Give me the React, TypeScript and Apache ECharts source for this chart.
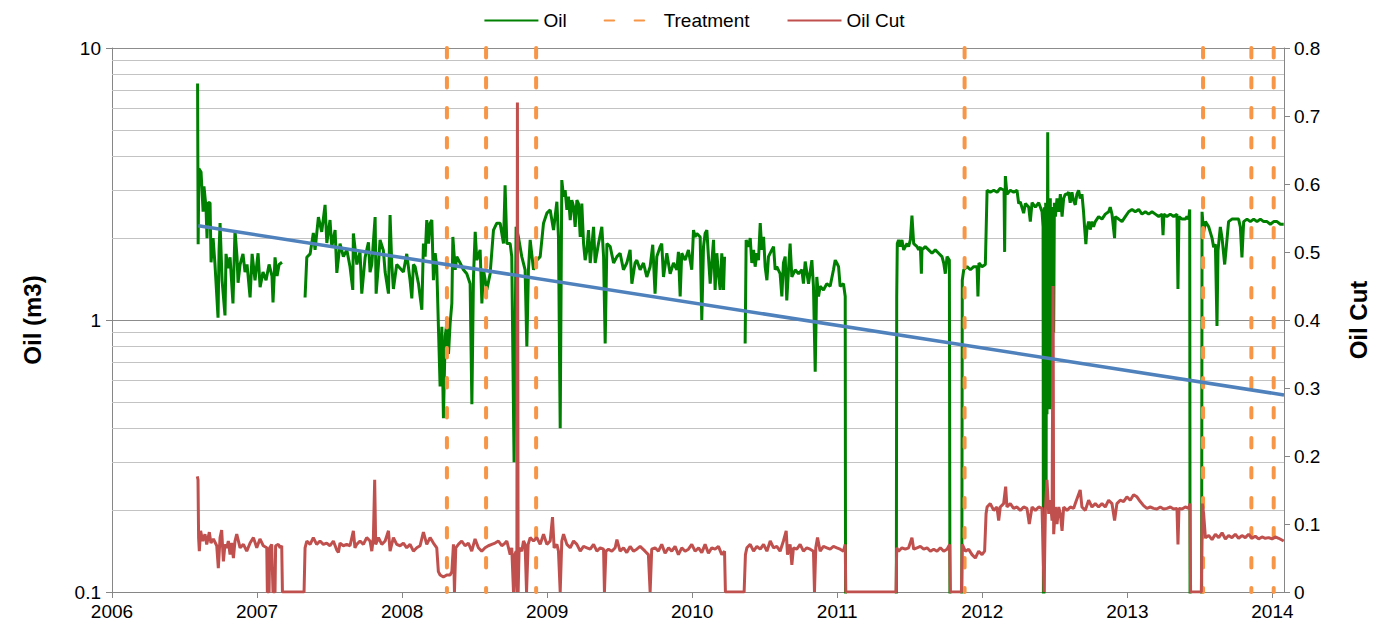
import React, { useEffect, useRef } from 'react';
import * as echarts from 'echarts';

// Oil rate (m3), [decimal year, value]; null = no reading (gap in the line)
const oilPoints: [number, number | null][] = [
  [2006.590, 7.4], [2006.594, 1.9], [2006.599, 3.6], [2006.614, 3.5], [2006.628, 2.5], [2006.634, 3.1], [2006.648, 2.6], [2006.655, 2.0],
  [2006.662, 2.7], [2006.676, 2.7], [2006.683, 1.63], [2006.697, 2.0], [2006.710, 1.6], [2006.731, 1.02], [2006.738, 1.8], [2006.745, 2.27],
  [2006.759, 1.4], [2006.779, 1.04], [2006.786, 1.75], [2006.800, 1.55], [2006.814, 1.7], [2006.834, 1.15], [2006.848, 2.14], [2006.862, 1.7],
  [2006.869, 1.37], [2006.883, 1.6], [2006.903, 1.75], [2006.917, 1.5], [2006.931, 1.6], [2006.952, 1.21], [2006.966, 1.75], [2006.986, 1.4],
  [2007.007, 1.76], [2007.021, 1.32], [2007.041, 1.5], [2007.062, 1.4], [2007.083, 1.6], [2007.103, 1.45], [2007.110, 1.16], [2007.124, 1.7],
  [2007.138, 1.45], [2007.152, 1.6], [2007.172, 1.63], [2007.25, null],
  [2007.331, 1.21], [2007.343, 1.70], [2007.366, 1.75], [2007.388, 2.09], [2007.400, 1.81], [2007.423, 2.39], [2007.446, 2.11], [2007.469, 2.65],
  [2007.481, 1.92], [2007.503, 2.33], [2007.515, 1.86], [2007.538, 2.14], [2007.550, 1.49], [2007.572, 1.91], [2007.595, 1.71], [2007.619, 1.81],
  [2007.641, 1.57], [2007.660, 1.29], [2007.664, 2.08], [2007.688, 1.6], [2007.710, 1.78], [2007.722, 1.25], [2007.745, 1.7], [2007.768, 1.93],
  [2007.779, 1.5], [2007.791, 1.6], [2007.814, 2.39], [2007.821, 1.25], [2007.837, 1.6], [2007.848, 1.97], [2007.871, 1.8], [2007.883, 1.5],
  [2007.906, 1.25], [2007.917, 2.43], [2007.929, 1.6], [2007.940, 1.3], [2007.963, 1.6], [2007.986, 1.55], [2008.009, 1.5], [2008.032, 1.75],
  [2008.055, 1.4], [2008.067, 1.2], [2008.078, 1.6], [2008.090, 1.57], [2008.113, 1.36], [2008.136, 1.09], [2008.147, 1.91], [2008.159, 1.71],
  [2008.170, 2.33], [2008.182, 1.91], [2008.193, 2.27], [2008.205, 2.33], [2008.216, 1.40], [2008.228, 1.76], [2008.239, 1.57], [2008.251, 0.92],
  [2008.262, 0.57], [2008.274, 0.945], [2008.285, 0.435], [2008.297, 0.87], [2008.308, 0.97], [2008.320, 0.75], [2008.331, 0.97], [2008.343, 1.15],
  [2008.350, 2.02], [2008.366, 1.53], [2008.377, 1.71], [2008.400, 1.62], [2008.423, 1.53], [2008.446, 1.48], [2008.469, 1.36], [2008.481, 0.49],
  [2008.492, 1.44], [2008.504, 2.11], [2008.515, 1.66], [2008.538, 1.81], [2008.550, 1.15], [2008.561, 1.53], [2008.584, 1.29], [2008.607, 1.48],
  [2008.630, 2.14], [2008.653, 2.27], [2008.676, 2.27], [2008.699, 1.91], [2008.710, 3.13], [2008.722, 1.91], [2008.745, 1.91], [2008.756, 1.71],
  [2008.772, 0.30], [2008.786, 2.20], [2008.802, 2.02], [2008.825, 1.71], [2008.848, 1.53], [2008.860, 0.80], [2008.871, 1.53], [2008.883, 1.97],
  [2008.906, 1.53], [2008.929, 1.66], [2008.952, 1.71], [2008.975, 2.27], [2008.998, 2.47], [2009.021, 2.54], [2009.044, 2.14], [2009.067, 2.72],
  [2009.078, 2.02], [2009.090, 0.40], [2009.101, 3.27], [2009.113, 2.84], [2009.124, 3.0], [2009.136, 2.54], [2009.147, 2.84], [2009.159, 2.33],
  [2009.170, 2.76], [2009.182, 2.61], [2009.193, 2.20], [2009.205, 2.76], [2009.216, 2.68], [2009.228, 2.02], [2009.239, 2.68], [2009.251, 1.91],
  [2009.262, 1.66], [2009.274, 1.81], [2009.285, 2.14], [2009.297, 1.62], [2009.320, 2.20], [2009.331, 1.62], [2009.354, 1.91], [2009.377, 2.20],
  [2009.389, 1.71], [2009.400, 0.82], [2009.412, 1.91], [2009.435, 1.86], [2009.458, 1.62], [2009.481, 1.71], [2009.503, 1.76], [2009.526, 1.53],
  [2009.549, 1.62], [2009.572, 1.81], [2009.584, 1.36], [2009.606, 1.62], [2009.618, 1.66], [2009.641, 1.53], [2009.664, 1.62], [2009.687, 1.44],
  [2009.710, 1.57], [2009.728, 1.89], [2009.744, 1.25], [2009.756, 1.71], [2009.779, 1.86], [2009.790, 1.91], [2009.802, 1.44], [2009.825, 1.76],
  [2009.848, 1.48], [2009.871, 1.62], [2009.894, 1.53], [2009.905, 1.78], [2009.917, 1.22], [2009.928, 1.76], [2009.951, 1.66], [2009.974, 1.81],
  [2009.997, 1.53], [2010.009, 2.14], [2010.020, 2.02], [2010.032, 2.08], [2010.055, 2.02], [2010.066, 1.0], [2010.078, 1.86], [2010.089, 2.08],
  [2010.101, 2.14], [2010.112, 1.71], [2010.124, 1.36], [2010.135, 1.62], [2010.147, 1.97], [2010.158, 1.29], [2010.170, 1.76], [2010.181, 1.48],
  [2010.193, 1.29], [2010.204, 1.76], [2010.216, 1.29], [2010.223, 1.71], [2010.29, null],
  [2010.365, 0.82], [2010.372, 1.97], [2010.388, 1.86], [2010.400, 2.0], [2010.411, 1.62], [2010.423, 1.81], [2010.434, 1.57], [2010.446, 1.76],
  [2010.457, 1.66], [2010.469, 2.27], [2010.480, 1.81], [2010.492, 2.02], [2010.503, 1.57], [2010.515, 1.40], [2010.526, 1.71], [2010.549, 1.81],
  [2010.561, 1.86], [2010.572, 1.53], [2010.583, 1.57], [2010.606, 1.48], [2010.618, 1.22], [2010.629, 1.62], [2010.641, 1.71], [2010.652, 1.18],
  [2010.664, 1.53], [2010.675, 1.91], [2010.687, 1.44], [2010.710, 1.53], [2010.733, 1.48], [2010.756, 1.53], [2010.767, 1.36], [2010.779, 1.64],
  [2010.802, 1.36], [2010.825, 1.66], [2010.836, 1.33], [2010.848, 0.645], [2010.859, 1.44], [2010.871, 1.22], [2010.882, 1.33], [2010.905, 1.29],
  [2010.928, 1.36], [2010.951, 1.33], [2010.974, 1.53], [2010.986, 1.66], [2010.997, 1.62], [2011.009, 1.57], [2011.020, 1.33], [2011.043, 1.36],
  [2011.055, 1.22], [2011.059, 0.01], [2011.405, 0.01],
  [2011.410, 1.22], [2011.414, 1.91], [2011.423, 1.97], [2011.435, 1.86], [2011.446, 1.97], [2011.458, 1.81], [2011.481, 1.91], [2011.492, 1.86],
  [2011.504, 1.97], [2011.515, 2.42], [2011.527, 1.91], [2011.550, 1.86], [2011.561, 1.81], [2011.573, 1.86], [2011.580, 1.48], [2011.584, 1.81],
  [2011.607, 1.86], [2011.630, 1.81], [2011.653, 1.76], [2011.676, 1.81], [2011.699, 1.76], [2011.722, 1.71], [2011.734, 1.62], [2011.745, 1.48],
  [2011.757, 1.71], [2011.773, 1.66], [2011.780, 0.01], [2011.856, 0.01],
  [2011.862, 1.40], [2011.872, 1.53], [2011.895, 1.57], [2011.918, 1.53], [2011.941, 1.57], [2011.964, 1.57], [2011.970, 1.22], [2011.977, 1.62],
  [2011.998, 1.57], [2012.021, 1.60], [2012.033, 3.0], [2012.055, 2.95], [2012.079, 3.0], [2012.102, 2.95], [2012.124, 3.05], [2012.150, 3.0],
  [2012.154, 1.78], [2012.159, 3.38], [2012.170, 2.9], [2012.193, 3.0], [2012.216, 2.95], [2012.239, 3.0], [2012.251, 2.68], [2012.262, 2.72],
  [2012.285, 2.47], [2012.297, 2.68], [2012.320, 2.6], [2012.331, 2.3], [2012.343, 2.7], [2012.366, 2.6], [2012.389, 2.7], [2012.412, 2.5],
  [2012.419, 2.2], [2012.423, 0.01], [2012.428, 2.6], [2012.432, 0.5], [2012.437, 2.7], [2012.440, 0.21], [2012.442, 2.5], [2012.446, 0.45],
  [2012.451, 4.9], [2012.456, 0.48], [2012.460, 2.7], [2012.465, 0.47], [2012.469, 2.8], [2012.474, 0.48], [2012.479, 2.6], [2012.483, 0.5],
  [2012.488, 2.6], [2012.492, 0.9], [2012.497, 2.7], [2012.504, 2.4], [2012.515, 2.8], [2012.527, 2.5], [2012.538, 2.9], [2012.550, 2.4],
  [2012.561, 2.8], [2012.572, 2.9], [2012.584, 2.9], [2012.595, 2.95], [2012.606, 2.7], [2012.618, 2.95], [2012.629, 2.75], [2012.641, 2.65],
  [2012.652, 2.9], [2012.664, 3.0], [2012.675, 2.8], [2012.687, 2.9], [2012.698, 2.5], [2012.705, 2.2], [2012.714, 1.9], [2012.721, 2.15],
  [2012.733, 2.3], [2012.744, 2.15], [2012.756, 2.3], [2012.767, 2.2], [2012.779, 2.3], [2012.802, 2.4], [2012.825, 2.35], [2012.848, 2.45],
  [2012.871, 2.5], [2012.882, 2.6], [2012.894, 2.45], [2012.912, 2.0], [2012.917, 2.4], [2012.940, 2.35], [2012.963, 2.3], [2012.986, 2.4],
  [2013.009, 2.5], [2013.032, 2.55], [2013.055, 2.5], [2013.078, 2.55], [2013.101, 2.45], [2013.124, 2.5], [2013.147, 2.45], [2013.170, 2.5],
  [2013.193, 2.45], [2013.216, 2.4], [2013.239, 2.45], [2013.246, 2.05], [2013.252, 2.45], [2013.273, 2.4], [2013.296, 2.45], [2013.319, 2.4],
  [2013.342, 2.45], [2013.349, 1.3], [2013.356, 2.4], [2013.377, 2.35], [2013.400, 2.35], [2013.411, 2.4], [2013.423, 2.35], [2013.430, 2.55],
  [2013.434, 0.01], [2013.510, 0.01],
  [2013.515, 2.5], [2013.526, 2.1], [2013.538, 2.3], [2013.561, 2.2], [2013.584, 2.0], [2013.595, 1.85], [2013.607, 1.9], [2013.618, 0.95],
  [2013.625, 1.8], [2013.641, 2.2], [2013.653, 2.0], [2013.671, 1.6], [2013.682, 1.85], [2013.698, 2.3], [2013.721, 2.35], [2013.744, 2.35],
  [2013.767, 2.35], [2013.779, 2.2], [2013.790, 1.7], [2013.802, 2.3], [2013.825, 2.35], [2013.848, 2.3], [2013.871, 2.35], [2013.894, 2.3],
  [2013.917, 2.35], [2013.940, 2.3], [2013.963, 2.3], [2013.986, 2.25], [2014.009, 2.3], [2014.032, 2.3], [2014.055, 2.25], [2014.078, 2.25],
];

// Oil cut (fraction), [decimal year, value]
const oilCutPoints: [number, number][] = [
  [2006.588, 0.170], [2006.593, 0.165], [2006.597, 0.08], [2006.602, 0.06], [2006.611, 0.09], [2006.625, 0.075], [2006.641, 0.085], [2006.653, 0.07],
  [2006.671, 0.088], [2006.682, 0.072], [2006.699, 0.078], [2006.722, 0.068], [2006.733, 0.035], [2006.745, 0.08], [2006.756, 0.091], [2006.768, 0.045],
  [2006.779, 0.07], [2006.791, 0.065], [2006.802, 0.075], [2006.814, 0.055], [2006.825, 0.072], [2006.837, 0.05], [2006.848, 0.075], [2006.860, 0.085],
  [2006.883, 0.065], [2006.906, 0.07], [2006.929, 0.06], [2006.952, 0.072], [2006.975, 0.08], [2006.998, 0.065], [2007.020, 0.078], [2007.043, 0.068],
  [2007.067, 0.065], [2007.071, 0], [2007.083, 0], [2007.087, 0.065], [2007.101, 0.07], [2007.110, 0], [2007.124, 0], [2007.128, 0.068],
  [2007.147, 0.07], [2007.159, 0.065], [2007.170, 0.068], [2007.175, 0], [2007.324, 0], [2007.331, 0.065], [2007.343, 0.075], [2007.366, 0.07],
  [2007.388, 0.08], [2007.411, 0.07], [2007.434, 0.075], [2007.457, 0.07], [2007.480, 0.072], [2007.503, 0.068], [2007.526, 0.075], [2007.549, 0.062],
  [2007.561, 0.058], [2007.572, 0.072], [2007.595, 0.068], [2007.618, 0.07], [2007.641, 0.068], [2007.664, 0.09], [2007.675, 0.065], [2007.687, 0.07],
  [2007.710, 0.075], [2007.733, 0.07], [2007.756, 0.08], [2007.779, 0.075], [2007.791, 0.06], [2007.802, 0.08], [2007.811, 0.165], [2007.818, 0.07],
  [2007.837, 0.08], [2007.860, 0.07], [2007.883, 0.075], [2007.906, 0.09], [2007.917, 0.06], [2007.940, 0.08], [2007.963, 0.07], [2007.986, 0.068],
  [2008.009, 0.072], [2008.032, 0.065], [2008.055, 0.07], [2008.078, 0.06], [2008.101, 0.065], [2008.124, 0.068], [2008.147, 0.088], [2008.170, 0.07],
  [2008.193, 0.08], [2008.216, 0.072], [2008.239, 0.065], [2008.250, 0.03], [2008.262, 0.025], [2008.285, 0.022], [2008.308, 0.025], [2008.331, 0.025],
  [2008.343, 0.03], [2008.354, 0.07], [2008.361, 0], [2008.370, 0.065], [2008.388, 0.07], [2008.411, 0.075], [2008.434, 0.068], [2008.457, 0.072],
  [2008.480, 0.06], [2008.503, 0.078], [2008.526, 0.065], [2008.549, 0.06], [2008.572, 0.065], [2008.595, 0.068], [2008.618, 0.07], [2008.641, 0.072],
  [2008.664, 0.075], [2008.687, 0.068], [2008.710, 0.072], [2008.722, 0.075], [2008.745, 0.055], [2008.756, 0.065], [2008.768, 0], [2008.777, 0.055],
  [2008.786, 0.06], [2008.791, 0], [2008.795, 0.72], [2008.800, 0], [2008.807, 0.065], [2008.825, 0.06], [2008.837, 0.075], [2008.848, 0.07],
  [2008.858, 0], [2008.869, 0.07], [2008.883, 0.08], [2008.906, 0.075], [2008.929, 0.08], [2008.952, 0.07], [2008.975, 0.085], [2008.998, 0.07],
  [2009.021, 0.075], [2009.037, 0.11], [2009.048, 0.065], [2009.067, 0.07], [2009.078, 0.06], [2009.090, 0], [2009.101, 0.075], [2009.113, 0.085],
  [2009.136, 0.07], [2009.159, 0.065], [2009.182, 0.075], [2009.205, 0.07], [2009.228, 0.06], [2009.251, 0.067], [2009.274, 0.065], [2009.297, 0.063],
  [2009.320, 0.07], [2009.343, 0.06], [2009.366, 0.065], [2009.389, 0.063], [2009.395, 0], [2009.405, 0.06], [2009.423, 0.063], [2009.446, 0.06],
  [2009.469, 0.065], [2009.481, 0.077], [2009.503, 0.06], [2009.526, 0.065], [2009.549, 0.058], [2009.572, 0.067], [2009.595, 0.06], [2009.618, 0.063],
  [2009.641, 0.067], [2009.675, 0.06], [2009.698, 0.055], [2009.710, 0], [2009.721, 0.063], [2009.744, 0.065], [2009.767, 0.06], [2009.790, 0.07],
  [2009.813, 0.057], [2009.837, 0.065], [2009.859, 0.06], [2009.882, 0.067], [2009.905, 0.055], [2009.928, 0.065], [2009.951, 0.06], [2009.974, 0.063],
  [2009.997, 0.07], [2010.020, 0.06], [2010.044, 0.065], [2010.066, 0.058], [2010.089, 0.07], [2010.112, 0.057], [2010.135, 0.065], [2010.158, 0.063],
  [2010.181, 0.067], [2010.204, 0.055], [2010.223, 0.06], [2010.229, 0], [2010.358, 0], [2010.367, 0.055], [2010.377, 0.065], [2010.400, 0.07],
  [2010.423, 0.06], [2010.446, 0.067], [2010.469, 0.063], [2010.492, 0.07], [2010.515, 0.06], [2010.538, 0.075], [2010.561, 0.065], [2010.583, 0.067],
  [2010.606, 0.06], [2010.629, 0.075], [2010.648, 0.09], [2010.657, 0.055], [2010.675, 0.07], [2010.687, 0.04], [2010.698, 0.065], [2010.721, 0.063],
  [2010.744, 0.07], [2010.767, 0.06], [2010.790, 0.065], [2010.813, 0.063], [2010.836, 0.06], [2010.843, 0], [2010.852, 0.065], [2010.864, 0.08],
  [2010.882, 0.06], [2010.905, 0.067], [2010.928, 0.065], [2010.951, 0.063], [2010.974, 0.067], [2010.997, 0.065], [2011.020, 0.063], [2011.043, 0.06],
  [2011.055, 0.07], [2011.059, 0], [2011.405, 0], [2011.410, 0.065], [2011.423, 0.06], [2011.446, 0.065], [2011.469, 0.063], [2011.492, 0.065],
  [2011.515, 0.08], [2011.527, 0.063], [2011.550, 0.065], [2011.573, 0.067], [2011.596, 0.063], [2011.619, 0.065], [2011.642, 0.06], [2011.665, 0.063],
  [2011.688, 0.06], [2011.711, 0.065], [2011.734, 0.06], [2011.757, 0.063], [2011.775, 0.07], [2011.780, 0], [2011.856, 0], [2011.862, 0.07],
  [2011.883, 0.06], [2011.906, 0.063], [2011.929, 0.055], [2011.952, 0.05], [2011.975, 0.06], [2011.998, 0.055], [2012.016, 0.06], [2012.026, 0.115],
  [2012.033, 0.125], [2012.055, 0.13], [2012.079, 0.12], [2012.101, 0.125], [2012.113, 0.105], [2012.124, 0.125], [2012.147, 0.13], [2012.161, 0.155],
  [2012.170, 0.125], [2012.193, 0.13], [2012.216, 0.123], [2012.239, 0.125], [2012.262, 0.12], [2012.285, 0.125], [2012.308, 0.123], [2012.324, 0.1],
  [2012.343, 0.125], [2012.366, 0.12], [2012.389, 0.125], [2012.412, 0.123], [2012.426, 0], [2012.435, 0.12], [2012.446, 0.165], [2012.458, 0.115],
  [2012.469, 0.135], [2012.481, 0.105], [2012.488, 0.45], [2012.492, 0.085], [2012.504, 0.125], [2012.515, 0.1], [2012.527, 0.125], [2012.538, 0.115],
  [2012.550, 0.09], [2012.561, 0.125], [2012.584, 0.12], [2012.607, 0.125], [2012.630, 0.123], [2012.641, 0.13], [2012.675, 0.15], [2012.687, 0.125],
  [2012.710, 0.12], [2012.733, 0.135], [2012.756, 0.125], [2012.779, 0.13], [2012.802, 0.125], [2012.825, 0.13], [2012.848, 0.125], [2012.871, 0.135],
  [2012.894, 0.13], [2012.912, 0.105], [2012.928, 0.13], [2012.951, 0.135], [2012.974, 0.133], [2012.997, 0.14], [2013.020, 0.135], [2013.043, 0.143],
  [2013.066, 0.14], [2013.089, 0.133], [2013.112, 0.127], [2013.135, 0.123], [2013.158, 0.125], [2013.181, 0.123], [2013.204, 0.122], [2013.227, 0.125],
  [2013.250, 0.122], [2013.273, 0.123], [2013.296, 0.125], [2013.319, 0.122], [2013.342, 0.123], [2013.349, 0.07], [2013.356, 0.123], [2013.377, 0.122],
  [2013.400, 0.125], [2013.423, 0.123], [2013.432, 0.13], [2013.436, 0], [2013.510, 0], [2013.517, 0.13], [2013.526, 0.115], [2013.538, 0.08],
  [2013.561, 0.083], [2013.584, 0.077], [2013.607, 0.085], [2013.630, 0.08], [2013.653, 0.087], [2013.676, 0.078], [2013.698, 0.083], [2013.721, 0.08],
  [2013.744, 0.085], [2013.767, 0.079], [2013.790, 0.083], [2013.813, 0.08], [2013.836, 0.085], [2013.859, 0.079], [2013.882, 0.082], [2013.905, 0.078],
  [2013.928, 0.081], [2013.951, 0.079], [2013.974, 0.08], [2013.997, 0.078], [2014.020, 0.081], [2014.043, 0.079], [2014.078, 0.075],
];

// Treatment dates (decimal year)
const treatmentYears: number[] = [2008.309, 2008.579, 2008.924, 2011.878, 2013.522, 2013.855, 2014.009];

// Exponential trend of oil rate
const trendYears: number[] = [2006.595, 2014.08];
const trendValues: number[] = [2.22, 0.53];

// Left log axis minor gridlines
const minorGridValues: number[] = [0.2, 0.3, 0.4, 0.5, 0.6, 0.7, 0.8, 0.9, 2, 3, 4, 5, 6, 7, 8, 9];

const xMin = 2006;
const xMax = 2014.08;

export default function App() {
  const ref = useRef<HTMLDivElement>(null);

  useEffect(() => {
    if (!ref.current) return;
    const chart = echarts.init(ref.current, null, { renderer: 'svg' });
    const font = "'Liberation Sans', Arial, sans-serif";
    const axisColor = '#868686';

    const oilData = oilPoints.map(([x, y]) => [x, y === null ? '-' : y]);
    const cutData = oilCutPoints.map(([x, y]) => [x, y]);
    const treatmentData: any[] = [];
    treatmentYears.forEach((t) => {
      treatmentData.push([t, 10], [t, 0.1], [t, '-']);
    });
    const trendData = trendYears.map((x, i) => [x, trendValues[i]]);

    const option: any = {
      animation: false,
      textStyle: { fontFamily: font },
      legend: {
        top: 6,
        left: 'center',
        itemWidth: 54,
        itemHeight: 14,
        itemGap: 37,
        data: ['Oil', 'Treatment', 'Oil Cut'],
        itemStyle: { opacity: 0 },
        textStyle: { fontSize: 19, color: '#000', fontFamily: font },
      },
      grid: { left: 112, right: 104, top: 48, bottom: 43, containLabel: false },
      xAxis: {
        type: 'value',
        min: xMin,
        max: xMax,
        interval: 1,
        splitLine: { show: false },
        axisLine: { show: true, lineStyle: { color: axisColor, width: 1 } },
        axisTick: { show: true, length: 6, lineStyle: { color: axisColor } },
        axisLabel: {
          fontSize: 19,
          color: '#000',
          margin: 10,
          fontFamily: font,
          showMaxLabel: false,
          formatter: (v: number) => (Math.abs(v - Math.round(v)) < 1e-6 ? String(Math.round(v)) : ''),
        },
      },
      yAxis: [
        {
          type: 'log',
          logBase: 10,
          min: 0.1,
          max: 10,
          name: 'Oil (m3)',
          nameLocation: 'middle',
          nameRotate: 90,
          nameGap: 68,
          nameTextStyle: { fontSize: 24, fontWeight: 'bold', color: '#000', fontFamily: font },
          axisLine: { show: true, lineStyle: { color: axisColor, width: 1 } },
          axisTick: { show: true, length: 6, lineStyle: { color: axisColor } },
          axisLabel: { fontSize: 19, color: '#000', margin: 11, fontFamily: font },
          splitLine: { show: true, lineStyle: { color: '#8c8c8c', width: 1 } },
        },
        {
          type: 'value',
          min: 0,
          max: 0.8,
          interval: 0.1,
          position: 'right',
          name: 'Oil Cut',
          nameLocation: 'middle',
          nameRotate: 90,
          nameGap: 62,
          nameTextStyle: { fontSize: 24, fontWeight: 'bold', color: '#000', fontFamily: font },
          axisLine: { show: true, lineStyle: { color: axisColor, width: 1 } },
          axisTick: { show: true, length: 6, lineStyle: { color: axisColor } },
          axisLabel: { fontSize: 19, color: '#000', margin: 10, fontFamily: font },
          splitLine: { show: false },
        },
      ],
      series: [
        {
          name: 'minorGrid',
          type: 'line',
          yAxisIndex: 0,
          data: [[2006.5, 1]],
          symbol: 'none',
          lineStyle: { opacity: 0 },
          silent: true,
          z: 1,
          markLine: {
            silent: true,
            symbol: ['none', 'none'],
            z: 1,
            label: { show: false },
            emphasis: { disabled: true },
            lineStyle: { color: '#c3c3c3', width: 1, type: 'solid' },
            data: minorGridValues.map((v) => ({ yAxis: v })),
          },
        },
        {
          name: 'Oil',
          type: 'line',
          yAxisIndex: 0,
          data: oilData,
          symbol: 'none',
          showSymbol: false,
          connectNulls: false,
          clip: true,
          lineStyle: { color: '#008000', width: 3 },
          itemStyle: { color: '#008000' },
          z: 3,
        },
        {
          name: 'Treatment',
          type: 'line',
          yAxisIndex: 0,
          data: treatmentData,
          symbol: 'none',
          showSymbol: false,
          connectNulls: false,
          lineStyle: { color: '#f79646', width: 4, type: [9.5, 20.5], cap: 'round' },
          itemStyle: { color: '#f79646' },
          z: 4,
        },
        {
          name: 'Oil Cut',
          type: 'line',
          yAxisIndex: 1,
          data: cutData,
          symbol: 'none',
          showSymbol: false,
          lineStyle: { color: '#c0504d', width: 3 },
          itemStyle: { color: '#c0504d' },
          z: 5,
        },
        {
          name: 'Trend',
          type: 'line',
          yAxisIndex: 0,
          data: trendData,
          symbol: 'none',
          showSymbol: false,
          lineStyle: { color: '#4f81bd', width: 3.5 },
          itemStyle: { color: '#4f81bd' },
          z: 6,
        },
      ],
    };

    chart.setOption(option);
    return () => chart.dispose();
  }, []);

  return (
    <div
      ref={ref}
      style={{ position: 'fixed', left: 0, top: 0, width: 1388, height: 635, background: '#fff' }}
    />
  );
}
